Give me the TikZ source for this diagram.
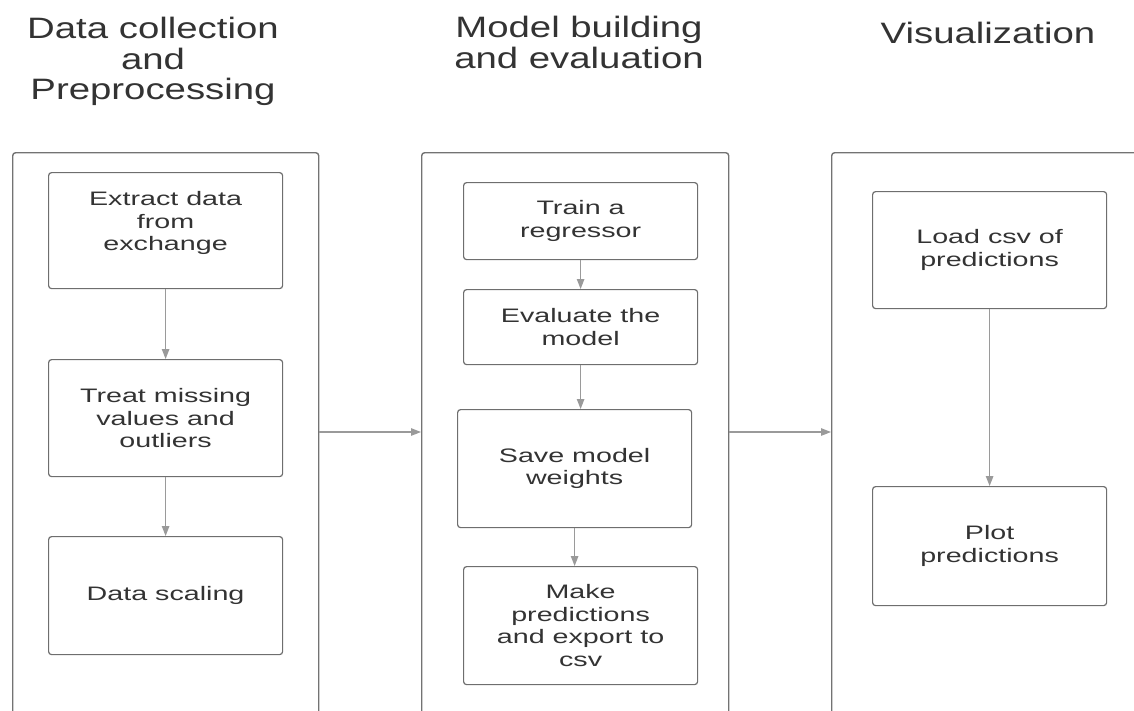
\documentclass[tikz,border=0pt]{standalone}
\usepackage{fontspec}
\usetikzlibrary{arrows.meta}
\newfontfamily\titlefont[FakeStretch=1.3]{Liberation Sans}
\newfontfamily\boxfont[FakeStretch=1.47]{Liberation Sans}
\definecolor{txt}{HTML}{333333}
\definecolor{panelc}{HTML}{737373}
\definecolor{boxc}{HTML}{6E6E6E}
\definecolor{arrc}{HTML}{9A9A9A}
\begin{document}
\begin{tikzpicture}[x=1pt,y=-1pt,
  panel/.style={draw=panelc, line width=1.4pt, rounded corners=3pt, minimum height=620pt, anchor=north west, inner sep=0pt},
  box/.style={draw=boxc, line width=1.2pt, rounded corners=3pt, minimum width=234pt, text=txt,
    font=\boxfont\fontsize{19.5}{22.5}\selectfont, align=center, inner sep=0pt, anchor=north west},
  ttl/.style={text=txt, font=\titlefont\fontsize{29.5}{30.5}\selectfont, align=center, inner sep=0pt},
  arr/.style={draw=arrc, line width=1.2pt, -{Triangle[length=10pt,width=7.5pt]}}]
\useasboundingbox (0,0) rectangle (1134,710);

% titles
\node[ttl, anchor=north] (t1) at (153,17) {Data collection\\and\\Preprocessing};
\node[ttl, anchor=north] (t2) at (579,16) {Model building\\and evaluation};
\node[ttl, anchor=base] (t3) at (988,43) {Visualization};

% panels
\node[panel, minimum width=306pt] (p1) at (12,152) {};
\node[panel, minimum width=307pt] (p2) at (421,152) {};
\node[panel, minimum width=307pt] (p3) at (831,152) {};

% boxes, panel 1
\node[box, minimum height=116pt] (ext) at (48,172)
  {\begin{tabular}{@{}c@{}}Extract data\\from\\exchange\\[14pt]\end{tabular}};
\node[box, minimum height=117pt] (trt) at (48,359) {Treat missing\\values and\\outliers};
\node[box, minimum height=118pt] (scl) at (48,536) {Data scaling};

% boxes, panel 2
\node[box, minimum height=77pt] (trn) at (463,182) {Train a\\regressor};
\node[box, minimum height=75pt] (evl) at (463,289) {Evaluate the\\model};
\node[box, minimum height=118pt] (sav) at (457,409) {Save model\\weights};
\node[box, minimum height=118pt] (mak) at (463,566) {Make\\predictions\\and export to\\csv};

% boxes, panel 3
\node[box, minimum height=117pt] (lod) at (872,191) {Load csv of\\predictions};
\node[box, minimum height=119pt] (plt) at (872,486) {Plot\\predictions};

% connectors
\draw[arr] (ext.south) -- (ext.south |- trt.north);
\draw[arr] (trt.south) -- (trt.south |- scl.north);
\draw[arr] (trn.south) -- (trn.south |- evl.north);
\draw[arr] (evl.south) -- (evl.south |- sav.north);
\draw[arr] (sav.south) -- (sav.south |- mak.north);
\draw[arr] (lod.south) -- (lod.south |- plt.north);

\coordinate (hy) at (0,432);
\draw[arr] (p1.east |- hy) -- (p2.west |- hy);
\draw[arr] (p2.east |- hy) -- (p3.west |- hy);
\end{tikzpicture}
\end{document}
